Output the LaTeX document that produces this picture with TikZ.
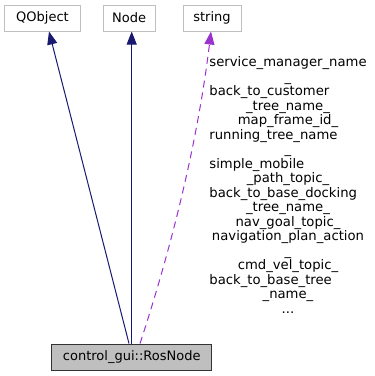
\documentclass[tikz,border=0pt]{standalone}
\usepackage{fontspec}
\setmainfont{DejaVu Sans}
\usetikzlibrary{arrows.meta}
\definecolor{inheritblue}{HTML}{191970}
\definecolor{usagepurple}{HTML}{9A32CD}
\definecolor{boxgray}{HTML}{BFBFBF}
\tikzset{
  classbox/.style={draw=boxgray, fill=white, line width=1pt, rectangle,
    minimum height=26pt, inner sep=0pt, font=\fontsize{13}{15}\selectfont},
  focusbox/.style={classbox, draw=black!80, fill=boxgray},
  inherit/.style={draw=inheritblue, line width=1pt,
    -{Triangle[length=13pt, width=10pt]}},
  usage/.style={draw=usagepurple, line width=1pt, dash pattern=on 7pt off 5pt,
    -{Triangle[length=13pt, width=10pt]}},
  memberlabel/.style={inner sep=0pt, align=center,
    font=\fontsize{13.2}{14.5}\selectfont}
}
\newcommand{\flushrow}[1]{\multicolumn{1}{@{}l@{}}{#1}}
\begin{document}
\begin{tikzpicture}[x=1pt, y=-1pt]
  \useasboundingbox (0,0) rectangle (375,376);

  % base classes
  \node[classbox, minimum width=75pt] (qobject) at (42.5,18) {QObject};
  \node[classbox, minimum width=52pt] (node) at (129.2,18) {Node};
  \node[classbox, minimum width=58pt] (string) at (212,18) {string};

  % the documented class
  \node[focusbox, minimum width=160pt] (rosnode) at (131.7,357) {control\_gui::RosNode};

  % inheritance
  \draw[inherit] ([xshift=-2.7pt]rosnode.north) -- ([xshift=6.5pt]qobject.south);
  \draw[inherit] (rosnode.north) -- ([xshift=2.5pt]node.south);

  % member usage
  \draw[usage] ([xshift=8.3pt]rosnode.north)
    .. controls (174,240) and (198.5,135) .. ([xshift=-1pt]string.south);

  \node[memberlabel] (members) at (288,187) {%
    \begin{tabular}{@{}c@{}}
      service\_manager\_name\\
      \_\\
      \flushrow{back\_to\_customer}\\
      \_tree\_name\_\\
      map\_frame\_id\_\\
      \flushrow{running\_tree\_name}\\
      \_\\
      \flushrow{simple\_mobile}\\
      \_path\_topic\_\\
      \flushrow{back\_to\_base\_docking}\\
      \_tree\_name\_\\
      nav\_goal\_topic\_\\
      navigation\_plan\_action\\
      \_\\
      cmd\_vel\_topic\_\\
      \flushrow{back\_to\_base\_tree}\\
      \_name\_\\
      ...
    \end{tabular}};
\end{tikzpicture}
\end{document}
